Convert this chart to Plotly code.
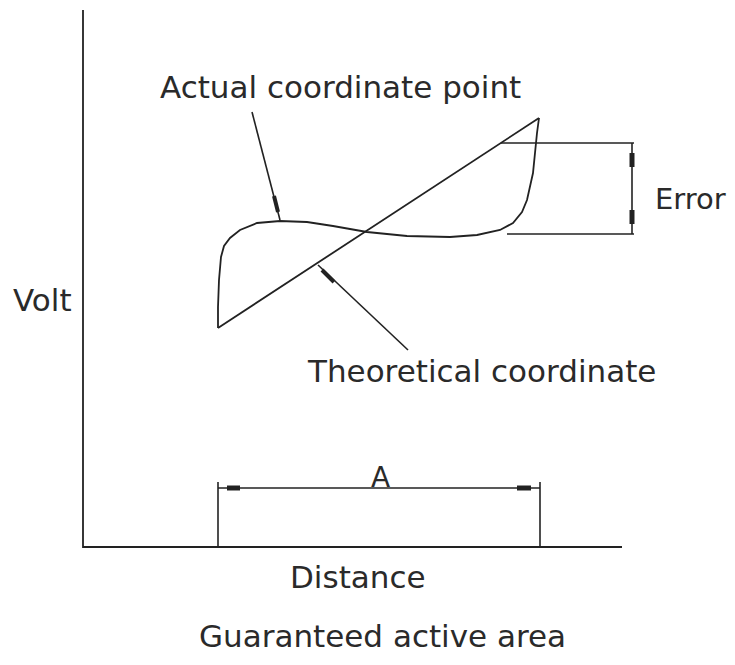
import plotly.graph_objects as go

# Diagram geometry (in picture units)
actual_x = [218, 218, 219, 221, 224, 230, 240, 257, 280, 307, 333, 367, 407, 450, 477, 500, 513, 522, 527, 533, 537, 539]
actual_y = [328, 307, 280, 257, 246, 238, 230, 223, 221, 222, 226, 232, 236, 237, 235, 230, 223, 212, 200, 173, 133, 118]
theory_x = [218, 539]
theory_y = [328, 118]

axis_x = [83, 83, 622]
axis_y = [10, 547, 547]

labels = ["Actual coordinate point", "Theoretical coordinate", "Error", "Volt", "A", "Distance", "Guaranteed active area"]

ink = "#222222"
fig = go.Figure()

def seg(xs, ys, w=1.6):
    fig.add_trace(go.Scatter(x=xs, y=ys, mode="lines", line=dict(color=ink, width=w),
                             hoverinfo="skip", showlegend=False))

# axes
seg(axis_x, axis_y, 1.8)
# curves
seg(actual_x, actual_y, 1.8)
seg(theory_x, theory_y, 1.8)

# Error dimension
seg([501, 634], [143, 143])
seg([507, 634], [234, 234])
seg([632, 632], [143, 234])
seg([632, 632], [153, 167], 5)
seg([632, 632], [210, 224], 5)

# A dimension
seg([218, 218], [482, 547])
seg([540, 540], [482, 547])
seg([218, 540], [488, 488])
seg([227, 240], [488, 488], 5)
seg([517, 531], [488, 488], 5)

# leader for actual coordinate point
seg([252, 280], [112, 220])
seg([274, 278], [196, 212], 4)
# leader for theoretical coordinate
seg([318, 408], [265, 350])
seg([322, 334], [270, 282], 4)

font = dict(family="DejaVu Sans", size=31, color="#2a2a2a")
ann = [
    (labels[0], 340, 87, 31),
    (labels[1], 481, 371, 31),
    (labels[2], 690, 199, 29),
    (labels[3], 42, 300, 31),
    (labels[4], 380, 477, 28),
    (labels[5], 358, 577, 31),
    (labels[6], 382, 636, 31),
]
for t, x, y, s in ann:
    fig.add_annotation(x=x, y=y, text=t, showarrow=False, font=dict(font, size=s),
                       xanchor="center", yanchor="middle")

# page body adds an 8px margin; size/shift the view so picture units match the reference
fig.update_layout(
    width=719, height=649, margin=dict(l=0, r=0, t=0, b=0),
    paper_bgcolor="white", plot_bgcolor="white",
    xaxis=dict(range=[8, 727], visible=False, fixedrange=True),
    yaxis=dict(range=[657, 8], visible=False, fixedrange=True),
)
fig.write_html("out.html")
